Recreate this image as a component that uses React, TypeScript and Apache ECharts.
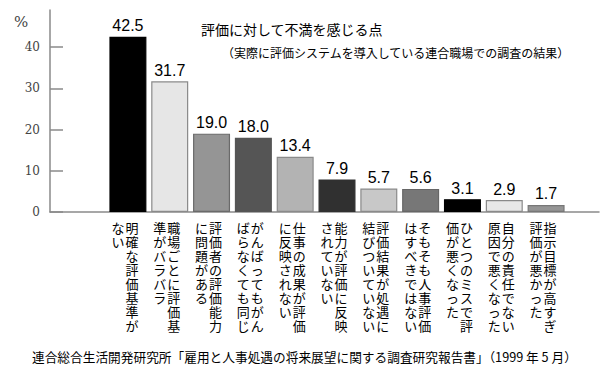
import React, { useEffect, useRef } from "react";
import * as echarts from "echarts";

const categories = [
  "明確な評価基準がない",
  "職場ごとに評価基準がバラバラ",
  "評価者の評価能力に問題がある",
  "がんばってもがんばらなくても同じ",
  "仕事の成果が評価に反映されない",
  "能力が評価に反映されていない",
  "評価結果が処遇に結びついていない",
  "そもそも人事評価はすべきではない",
  "ひとつのミスで評価が悪くなった",
  "自分の責任でない原因で悪くなった",
  "指示目標が高すぎ評価が悪かった",
];
const values = [42.5, 31.7, 19.0, 18.0, 13.4, 7.9, 5.7, 5.6, 3.1, 2.9, 1.7];
const yTicks = [0, 10, 20, 30, 40];
const columnLength = 8;

const titleText = "評価に対して不満を感じる点";
const subtitleText = "（実際に評価システムを導入している連合職場での調査の結果）";
const sourceText = "連合総合生活開発研究所「雇用と人事処遇の将来展望に関する調査研究報告書」（1999 年 5 月）";
const unitText = "%";

const barColors = ["#000000", "#e6e6e6", "#959595", "#555555", "#b3b3b3", "#303030", "#c8c8c8", "#777777", "#000000", "#e8e8e8", "#959595"];
const borderColors = ["#000000", "#8a8a8a", "#6a6a6a", "#555555", "#8a8a8a", "#303030", "#8a8a8a", "#666666", "#000000", "#8a8a8a", "#777777"];

function verticalLabel(s: string): string {
  const right = Array.from(s.slice(0, columnLength));
  const left = Array.from(s.slice(columnLength));
  const lines: string[] = [];
  for (let k = 0; k < right.length; k++) {
    const l = left[k] || "\u3000";
    lines.push(`{c|${l}}{c|${right[k]}}`);
  }
  return lines.join("\n");
}

export default function App() {
  const ref = useRef<HTMLDivElement>(null);
  useEffect(() => {
    if (!ref.current) return;
    const chart = echarts.init(ref.current, null, { renderer: "svg" });
    const axisGray = "#8a8a8a";
    chart.setOption({
      animation: false,
      backgroundColor: "#ffffff",
      grid: [
        { left: 50, right: 1, top: 10, height: 202 },
        { left: 107, width: 460, top: 10, height: 202 },
      ],
      xAxis: [
        {
          gridIndex: 0,
          type: "value",
          min: 0,
          max: 1,
          axisLine: { show: true, lineStyle: { color: axisGray, width: 1.5 } },
          axisTick: { show: false },
          axisLabel: { show: false },
          splitLine: { show: false },
        },
        {
          gridIndex: 1,
          type: "category",
          data: categories,
          axisLine: { show: false },
          axisTick: { show: false },
          axisLabel: {
            interval: 0,
            margin: 8,
            padding: [0, 6, 0, 0],
            formatter: (v: string) => verticalLabel(v),
            rich: {
              c: {
                width: 14,
                align: "center",
                fontSize: 13,
                lineHeight: 14,
                color: "#000",
                fontFamily: "'Noto Sans CJK JP', sans-serif",
              },
            },
          },
        },
      ],
      yAxis: [
        {
          gridIndex: 0,
          type: "value",
          min: 0,
          max: 49,
          axisLine: { show: true, lineStyle: { color: axisGray, width: 1.5 } },
          axisTick: {
            show: true,
            inside: true,
            length: 13,
            customValues: yTicks,
            lineStyle: { color: axisGray, width: 1.5 },
          },
          axisLabel: {
            customValues: yTicks,
            margin: 10,
            fontFamily: "'DejaVu Serif', serif",
            fontSize: 12,
            color: "#444",
          },
          splitLine: { show: false },
        },
        {
          gridIndex: 1,
          type: "value",
          min: 0,
          max: 49,
          show: false,
        },
      ],
      series: [
        {
          type: "bar",
          xAxisIndex: 1,
          yAxisIndex: 1,
          barWidth: 37,
          data: values.map((v, i) => ({
            value: v,
            itemStyle: { color: barColors[i], borderColor: borderColors[i], borderWidth: 1.2 },
          })),
          label: {
            show: true,
            position: "top",
            distance: 3,
            formatter: (p: any) => Number(p.value).toFixed(1),
            fontFamily: "'Liberation Sans', Arial, sans-serif",
            fontSize: 16,
            color: "#000",
          },
        },
      ],
      graphic: [
        {
          type: "text",
          x: 201,
          y: 29,
          style: {
            text: titleText,
            fontSize: 14,
            fontFamily: "'Noto Sans CJK JP', sans-serif",
            fill: "#000",
            textVerticalAlign: "middle",
          },
        },
        {
          type: "text",
          x: 222,
          y: 52,
          style: {
            text: subtitleText,
            fontSize: 12,
            fontFamily: "'Noto Sans CJK JP', sans-serif",
            fill: "#000",
            textVerticalAlign: "middle",
          },
        },
        {
          type: "text",
          x: 32,
          y: 356,
          style: {
            text: sourceText,
            fontSize: 12.7,
            fontFamily: "'Noto Sans CJK JP', sans-serif",
            fill: "#000",
            textVerticalAlign: "middle",
          },
        },
        {
          type: "text",
          x: 14,
          y: 22,
          style: {
            text: unitText,
            fontSize: 15,
            fontFamily: "'DejaVu Serif', serif",
            fill: "#444",
            textVerticalAlign: "middle",
          },
        },
      ],
    });
    return () => chart.dispose();
  }, []);
  return (
    <div
      ref={ref}
      style={{ position: "absolute", left: 0, top: 0, width: 600, height: 383 }}
    />
  );
}
